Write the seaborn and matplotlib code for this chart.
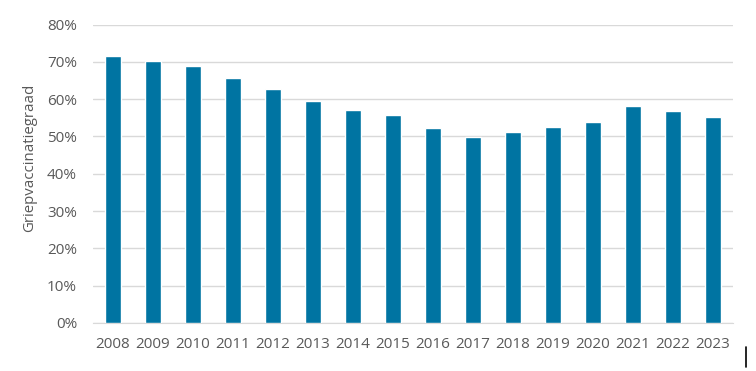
import pandas as pd
import seaborn as sns
import matplotlib.pyplot as plt
from matplotlib.lines import Line2D
from matplotlib.ticker import PercentFormatter

# data
years = ["2008", "2009", "2010", "2011", "2012", "2013", "2014", "2015",
         "2016", "2017", "2018", "2019", "2020", "2021", "2022", "2023"]
graad = [71.7, 70.3, 69.0, 65.8, 62.6, 59.5, 57.1, 55.8,
         52.3, 49.8, 51.2, 52.6, 53.9, 58.2, 56.9, 55.3]

df = pd.DataFrame({"jaar": years, "graad": graad})

sns.set_style("white")
plt.rcParams["font.family"] = ["Open Sans", "DejaVu Sans"]

fig = plt.figure(figsize=(7.56, 3.71), dpi=100)
ax = fig.add_axes([0.123, 0.1294, 0.8466, 0.8043])

sns.barplot(data=df, x="jaar", y="graad", color="#0074A2", saturation=1,
            width=0.4, ax=ax, zorder=3)

ax.set_ylim(0, 80)
ax.set_yticks(range(0, 81, 10))
ax.yaxis.set_major_formatter(PercentFormatter(decimals=0))
ax.grid(axis="y", color="#D9D9D9", linewidth=1, zorder=0)
ax.set_xlim(-0.5, len(years) - 0.5)

for s in ["top", "right", "left"]:
    ax.spines[s].set_visible(False)
ax.spines["bottom"].set_color("#D9D9D9")

ax.tick_params(axis="both", length=0, labelsize=11, colors="#595959")
ax.tick_params(axis="x", pad=10)
ax.tick_params(axis="y", pad=11.5)
ax.set_xlabel("")
ax.set_ylabel("Griepvaccinatiegraad", fontsize=10.8, color="#595959")
ax.yaxis.set_label_coords(-0.0875, 0.553)

# small stray mark in the bottom right corner
fig.add_artist(Line2D([746 / 756, 746 / 756], [1 - 347 / 371, 1 - 367 / 371],
                      color="black", linewidth=1.2))

fig.savefig("out.png", dpi=100)
